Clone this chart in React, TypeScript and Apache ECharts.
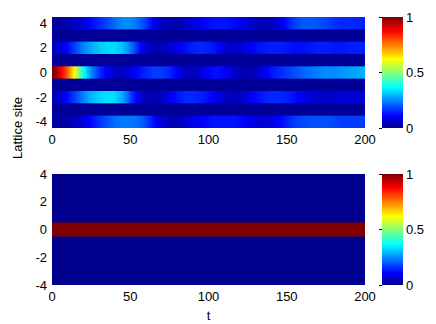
import React, { useEffect, useRef } from "react";
import * as echarts from "echarts";

// time samples (t) shared by every lattice row of panel (a)
const times = [0, 2.5, 5, 7.5, 10, 12.5, 15, 17.5, 20, 22.5, 25, 30, 35, 40, 45, 50, 55, 60, 65, 70, 75, 80, 85, 90, 95, 100, 105, 110, 115, 120, 125, 130, 135, 140, 145, 150, 155, 160, 165, 170, 175, 180, 185, 190, 195, 200];

const sites = [4, 3, 2, 1, 0, -1, -2, -3, -4];

// panel (a): occupation of each lattice site vs t
const siteP4 = [0.02, 0.02, 0.02, 0.02, 0.03, 0.04, 0.05, 0.06, 0.08, 0.1, 0.12, 0.15, 0.18, 0.22, 0.25, 0.25, 0.22, 0.17, 0.1, 0.05, 0.03, 0.03, 0.05, 0.08, 0.1, 0.12, 0.13, 0.13, 0.12, 0.1, 0.07, 0.05, 0.04, 0.05, 0.08, 0.13, 0.17, 0.2, 0.2, 0.19, 0.18, 0.16, 0.15, 0.15, 0.15, 0.14];
const siteP3 = [0.01, 0.01, 0.01, 0.01, 0.01, 0.01, 0.01, 0.01, 0.01, 0.01, 0.01, 0.01, 0.01, 0.01, 0.01, 0.01, 0.01, 0.01, 0.01, 0.01, 0.01, 0.01, 0.01, 0.01, 0.01, 0.01, 0.01, 0.01, 0.01, 0.01, 0.01, 0.01, 0.01, 0.01, 0.01, 0.01, 0.01, 0.01, 0.01, 0.01, 0.01, 0.01, 0.01, 0.01, 0.01, 0.01];
const siteP2 = [0.05, 0.06, 0.07, 0.09, 0.12, 0.15, 0.18, 0.21, 0.24, 0.26, 0.28, 0.31, 0.33, 0.33, 0.3, 0.23, 0.14, 0.06, 0.03, 0.04, 0.06, 0.09, 0.12, 0.14, 0.15, 0.14, 0.12, 0.08, 0.05, 0.06, 0.09, 0.12, 0.13, 0.14, 0.14, 0.13, 0.12, 0.12, 0.13, 0.14, 0.14, 0.13, 0.13, 0.14, 0.14, 0.14];
const siteP1 = [0.01, 0.01, 0.01, 0.01, 0.01, 0.01, 0.01, 0.01, 0.01, 0.01, 0.01, 0.01, 0.01, 0.01, 0.01, 0.01, 0.01, 0.01, 0.01, 0.01, 0.01, 0.01, 0.01, 0.01, 0.01, 0.01, 0.01, 0.01, 0.01, 0.01, 0.01, 0.01, 0.01, 0.01, 0.01, 0.01, 0.01, 0.01, 0.01, 0.01, 0.01, 0.01, 0.01, 0.01, 0.01, 0.01];
const site0 = [1.0, 0.97, 0.9, 0.84, 0.77, 0.68, 0.58, 0.47, 0.38, 0.31, 0.25, 0.16, 0.1, 0.06, 0.05, 0.08, 0.12, 0.15, 0.17, 0.17, 0.15, 0.1, 0.05, 0.04, 0.07, 0.11, 0.13, 0.11, 0.07, 0.04, 0.03, 0.05, 0.09, 0.13, 0.15, 0.17, 0.19, 0.21, 0.23, 0.24, 0.25, 0.25, 0.26, 0.27, 0.28, 0.29];
const siteM1 = [0.01, 0.01, 0.01, 0.01, 0.01, 0.01, 0.01, 0.01, 0.01, 0.01, 0.01, 0.01, 0.01, 0.01, 0.01, 0.01, 0.01, 0.01, 0.01, 0.01, 0.01, 0.01, 0.01, 0.01, 0.01, 0.01, 0.01, 0.01, 0.01, 0.01, 0.01, 0.01, 0.01, 0.01, 0.01, 0.01, 0.01, 0.01, 0.01, 0.01, 0.01, 0.01, 0.01, 0.01, 0.01, 0.01];
const siteM2 = [0.04, 0.05, 0.07, 0.09, 0.12, 0.15, 0.18, 0.21, 0.24, 0.27, 0.29, 0.32, 0.34, 0.33, 0.28, 0.18, 0.09, 0.04, 0.03, 0.05, 0.09, 0.13, 0.15, 0.15, 0.14, 0.12, 0.09, 0.06, 0.04, 0.05, 0.08, 0.12, 0.14, 0.15, 0.15, 0.14, 0.12, 0.09, 0.07, 0.06, 0.06, 0.06, 0.07, 0.07, 0.07, 0.07];
const siteM3 = [0.01, 0.01, 0.01, 0.01, 0.01, 0.01, 0.01, 0.01, 0.01, 0.01, 0.01, 0.01, 0.01, 0.01, 0.01, 0.01, 0.01, 0.01, 0.01, 0.01, 0.01, 0.01, 0.01, 0.01, 0.01, 0.01, 0.01, 0.01, 0.01, 0.01, 0.01, 0.01, 0.01, 0.01, 0.01, 0.01, 0.01, 0.01, 0.01, 0.01, 0.01, 0.01, 0.01, 0.01, 0.01, 0.01];
const siteM4 = [0.02, 0.02, 0.02, 0.02, 0.03, 0.04, 0.05, 0.06, 0.08, 0.1, 0.12, 0.16, 0.19, 0.22, 0.23, 0.23, 0.22, 0.18, 0.12, 0.07, 0.04, 0.04, 0.06, 0.09, 0.11, 0.12, 0.13, 0.13, 0.13, 0.12, 0.1, 0.08, 0.07, 0.08, 0.11, 0.14, 0.17, 0.18, 0.19, 0.19, 0.19, 0.18, 0.17, 0.17, 0.17, 0.17];

// panel (b): frozen occupation, constant over t
const panelBSites = [4, 3, 2, 1, 0, -1, -2, -3, -4];
const panelBValues = [0, 0, 0, 0, 1, 0, 0, 0, 0];
const tRange = [0, 200];

const xTicks = [0, 50, 100, 150, 200];
const yTicks = [-4, -2, 0, 2, 4];
const colorTicks = [0, 0.5, 1];

// MATLAB "jet" colormap
const JET: [number, number[]][] = [
  [0, [0, 0, 143]],
  [0.111, [0, 0, 255]],
  [0.365, [0, 255, 255]],
  [0.619, [255, 255, 0]],
  [0.873, [255, 0, 0]],
  [1, [128, 0, 0]],
];
function jet(v: number): string {
  const x = Math.max(0, Math.min(1, v));
  for (let i = 1; i < JET.length; i++) {
    const [o1, c1] = JET[i];
    const [o0, c0] = JET[i - 1];
    if (x <= o1) {
      const f = (x - o0) / (o1 - o0);
      const c = c0.map((a, k) => Math.round(a + (c1[k] - a) * f));
      return `rgb(${c[0]},${c[1]},${c[2]})`;
    }
  }
  return "rgb(128,0,0)";
}

const FONT = "'Liberation Sans', Arial, Helvetica, sans-serif";

export default function App() {
  const ref = useRef<HTMLDivElement>(null);
  useEffect(() => {
    document.body.style.margin = "0";
    if (!ref.current) return;
    const chart = echarts.init(ref.current, null, { renderer: "svg" });

    const rowsA = [siteP4, siteP3, siteP2, siteP1, site0, siteM1, siteM2, siteM3, siteM4];
    const dataA: number[][] = [];
    rowsA.forEach((vals, r) => {
      for (let i = 0; i < times.length - 1; i++) {
        dataA.push([times[i], times[i + 1], sites[r], vals[i], vals[i + 1]]);
      }
    });
    const dataB: number[][] = panelBSites.map((s, r) => [tRange[0], tRange[1], s, panelBValues[r], panelBValues[r]]);

    const renderCell = (_params: any, api: any) => {
      const t0 = api.value(0), t1 = api.value(1), s = api.value(2);
      const v0 = api.value(3), v1 = api.value(4);
      const p0 = api.coord([t0, s + 0.5]);
      const p1 = api.coord([t1, s - 0.5]);
      const stops = [];
      for (let k = 0; k <= 4; k++) {
        const f = k / 4;
        stops.push({ offset: f, color: jet(v0 + (v1 - v0) * f) });
      }
      return {
        type: "rect",
        shape: { x: p0[0], y: p0[1], width: p1[0] - p0[0] + 0.6, height: p1[1] - p0[1] + 0.6 },
        style: { fill: new echarts.graphic.LinearGradient(0, 0, 1, 0, stops) },
      };
    };

    const renderBar = (_params: any, api: any) => {
      const p0 = api.coord([0, colorTicks[colorTicks.length - 1]]);
      const p1 = api.coord([1, colorTicks[0]]);
      return {
        type: "rect",
        shape: { x: p0[0], y: p0[1], width: p1[0] - p0[0], height: p1[1] - p0[1] },
        style: {
          fill: new echarts.graphic.LinearGradient(0, 1, 0, 0, JET.map(([o, c]) => ({ offset: o, color: `rgb(${c[0]},${c[1]},${c[2]})` }))),
        },
      };
    };

    const tickLabel = { fontSize: 13, color: "#000", fontFamily: FONT };
    const xAxisMain = (gridIndex: number, name?: string) => ({
      type: "value", gridIndex, min: xTicks[0], max: xTicks[xTicks.length - 1], interval: 50,
      axisLine: { show: false }, axisTick: { show: false }, splitLine: { show: false },
      axisLabel: { ...tickLabel, margin: 5 },
      name: name || "", nameLocation: "middle", nameGap: 24,
      nameTextStyle: { fontSize: 13, color: "#000", fontFamily: FONT },
    });
    const yAxisMain = (gridIndex: number, min: number, max: number) => ({
      type: "value", gridIndex, min, max, interval: 0.5,
      axisLine: { show: false }, axisTick: { show: false }, splitLine: { show: false },
      axisLabel: {
        ...tickLabel, margin: 5,
        formatter: (v: number) => (yTicks.some((t) => Math.abs(t - v) < 1e-9) ? String(v) : ""),
      },
    });
    const cbY = (gridIndex: number) => ({
      type: "value", gridIndex, position: "right", min: 0, max: 1, interval: 0.5,
      axisLine: { show: false }, splitLine: { show: false },
      axisTick: { show: true, inside: true, length: 3, lineStyle: { color: "#000", width: 1 } },
      axisLabel: { ...tickLabel, margin: 3 },
    });
    const cbX = (gridIndex: number) => ({ type: "value", gridIndex, min: 0, max: 1, show: false });

    chart.setOption({
      animation: false,
      textStyle: { fontFamily: FONT },
      grid: [
        { left: 52, top: 17, width: 313, height: 111, show: true, backgroundColor: "#00008F", borderWidth: 0 },
        { left: 52, top: 174, width: 313, height: 111, show: true, backgroundColor: "#00008F", borderWidth: 0 },
        { left: 382, top: 17, width: 21, height: 111 },
        { left: 382, top: 174, width: 21, height: 111 },
      ],
      xAxis: [xAxisMain(0), xAxisMain(1, "t"), cbX(2), cbX(3)],
      yAxis: [yAxisMain(0, -4.5, 4.5), yAxisMain(1, -4, 4), cbY(2), cbY(3)],
      series: [
        { type: "custom", xAxisIndex: 0, yAxisIndex: 0, clip: true, renderItem: renderCell, data: dataA, encode: { x: [0, 1], y: 2 } },
        { type: "custom", xAxisIndex: 1, yAxisIndex: 1, clip: true, renderItem: renderCell, data: dataB, encode: { x: [0, 1], y: 2 } },
        { type: "custom", xAxisIndex: 2, yAxisIndex: 2, renderItem: renderBar, data: [[0, 1]] },
        { type: "custom", xAxisIndex: 3, yAxisIndex: 3, renderItem: renderBar, data: [[0, 1]] },
      ],
      graphic: [
        { type: "text", left: 65, top: 25, style: { text: "(a)", fill: "#fff", fontSize: 13, fontFamily: FONT } },
        { type: "text", left: 65, top: 188, style: { text: "(b)", fill: "#fff", fontSize: 13, fontWeight: "bold", fontFamily: FONT } },
        {
          type: "text", x: 17, y: 128, rotation: Math.PI / 2,
          style: { text: "Lattice site", fill: "#000", fontSize: 13, fontFamily: FONT, textAlign: "center", textVerticalAlign: "middle", align: "center", verticalAlign: "middle" },
        },
      ],
    });
    return () => chart.dispose();
  }, []);
  return <div ref={ref} style={{ width: 436, height: 324 }} />;
}
